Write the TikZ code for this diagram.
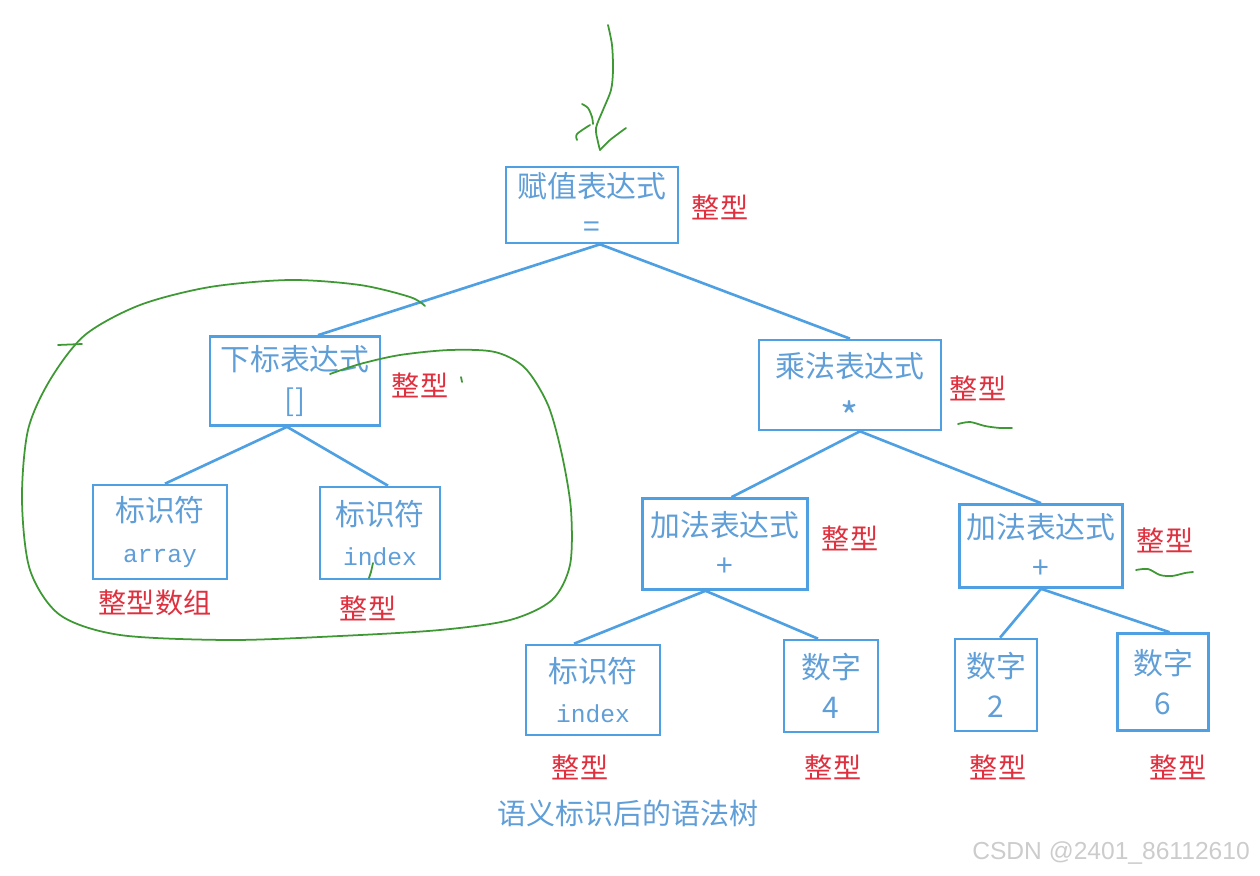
\documentclass[tikz,border=0pt]{standalone}
\usepackage{fontspec}
\setmainfont{Noto Sans CJK SC}
\setmonofont{Liberation Mono}
\newfontfamily\wmfont{Liberation Sans}
\usetikzlibrary{positioning}
\definecolor{boxblue}{RGB}{78,160,226}
\definecolor{textblue}{RGB}{96,158,215}
\definecolor{tagred}{RGB}{222,48,62}
\definecolor{pengreen}{RGB}{62,152,52}
\tikzset{
  box/.style={draw=boxblue, line width=1.5pt, inner sep=0pt, align=center, text=textblue, font=\fontsize{17}{23}\selectfont},
  tag/.style={text=tagred, font=\fontsize{16}{18}\selectfont},
  edge/.style={draw=boxblue, line width=1.5pt},
  pen/.style={draw=pengreen, line width=1pt, line cap=round, line join=round}
}
\begin{document}
\begin{tikzpicture}[x=0.02cm, y=-0.02cm]
\useasboundingbox (0,0) rectangle (1260,875);

\node[box, minimum width=3.44cm, minimum height=1.52cm] (root) at (592,205) {赋值表达式\\=};
\node[box, minimum width=3.4cm, minimum height=1.78cm] (sub) at (295,381) {下标表达式\\{[]}};
\node[box, minimum width=3.64cm, minimum height=1.8cm] (mul) at (850,385) {乘法表达式\\{\fontsize{22}{23}\selectfont\smash{\raisebox{-0.35em}{*}}}};
\node[box, minimum width=2.68cm, minimum height=1.88cm] (arr) at (160,532) {标识符\\\texttt{\fontsize{14}{23}\selectfont array}};
\node[box, minimum width=2.4cm, minimum height=1.84cm] (idxa) at (380,533) {标识符\\\texttt{\fontsize{14}{23}\selectfont index}};
\node[box, minimum width=3.3cm, minimum height=1.82cm] (addl) at (725,544) {加法表达式\\+};
\node[box, minimum width=3.26cm, minimum height=1.66cm] (addr) at (1041,546) {加法表达式\\+};
\node[box, minimum width=2.68cm, minimum height=1.8cm] (idxb) at (593,690) {标识符\\\texttt{\fontsize{14}{23}\selectfont index}};
\node[box, minimum width=1.88cm, minimum height=1.84cm] (four) at (831,686) {数字\\4};
\node[box, minimum width=1.64cm, minimum height=1.84cm] (two) at (996,685) {数字\\2};
\node[box, minimum width=1.82cm, minimum height=1.94cm] (six) at (1163,682) {数字\\6};

\draw[edge] ([xshift=0.16cm]root.south) -- ([xshift=0.46cm]sub.north);
\draw[edge] ([xshift=0.16cm]root.south) -- (mul.north);
\draw[edge] ([xshift=-0.16cm]sub.south) -- ([xshift=0.1cm]arr.north);
\draw[edge] ([xshift=-0.16cm]sub.south) -- ([xshift=0.16cm]idxa.north);
\draw[edge] ([xshift=0.2cm]mul.south) -- ([xshift=0.13cm]addl.north);
\draw[edge] ([xshift=0.2cm]mul.south) -- (addr.north);
\draw[edge] ([xshift=-0.39cm]addl.south) -- ([xshift=-0.38cm]idxb.north);
\draw[edge] ([xshift=-0.39cm]addl.south) -- ([xshift=-0.26cm]four.north);
\draw[edge] (addr.south) -- ([xshift=0.08cm]two.north);
\draw[edge] (addr.south) -- ([xshift=0.13cm]six.north);

\node[tag] (troot) at (720,207) {整型};
\node[tag] (tsub) at (420,385) {整型};
\node[tag] (tmul) at (978,388) {整型};
\node[tag] (tarr) at (155,603) {整型数组};
\node[tag] (tidxa) at (368,608) {整型};
\node[tag] (taddl) at (850,538) {整型};
\node[tag] (taddr) at (1165,540) {整型};
\node[tag] (tidxb) at (580,767) {整型};
\node[tag] (tfour) at (833,767) {整型};
\node[tag] (ttwo) at (998,767) {整型};
\node[tag] (tsix) at (1178,767) {整型};

\node[text=textblue, font=\fontsize{16.5}{18}\selectfont] (caption) at (628,813) {语义标识后的语法树};
\node[anchor=east, text=gray!40, font=\wmfont\fontsize{14}{16}\selectfont] (wmark) at (1256,853) {CSDN @2401\_86112610};

% green pen marks
\draw[pen] plot[smooth] coordinates {(608,25) (612,45) (613,70) (611,90) (603,110) (596,128) (598,142) (600,150)};
\draw[pen] plot[smooth] coordinates {(600,150) (610,140) (626,128)};
\draw[pen] plot[smooth] coordinates {(582,104) (588,108) (592,117) (593,124)};
\draw[pen] plot[smooth] coordinates {(577,140) (577,134) (590,125)};
\draw[pen] plot[smooth] coordinates {(330,374) (360,364) (400,355) (450,350) (495,352) (525,368) (548,405) (562,455) (571,510) (570,565) (552,600) (510,620) (440,630) (340,636) (230,640) (120,635) (60,615) (30,570) (22,500) (28,430) (50,380) (85,335) (140,305) (210,287) (290,280) (360,285) (410,297) (425,306)};
\draw[pen] (58,345) -- (82,344);
\draw[pen] (373,563) -- (371,572) -- (369,578);
\draw[pen] (461,377) -- (462,382);
\draw[pen] plot[smooth] coordinates {(958,424) (970,422) (985,426) (1000,428) (1012,428)};
\draw[pen] plot[smooth] coordinates {(1136,570) (1148,569) (1160,575) (1172,576) (1185,573) (1193,572)};
\end{tikzpicture}
\end{document}
